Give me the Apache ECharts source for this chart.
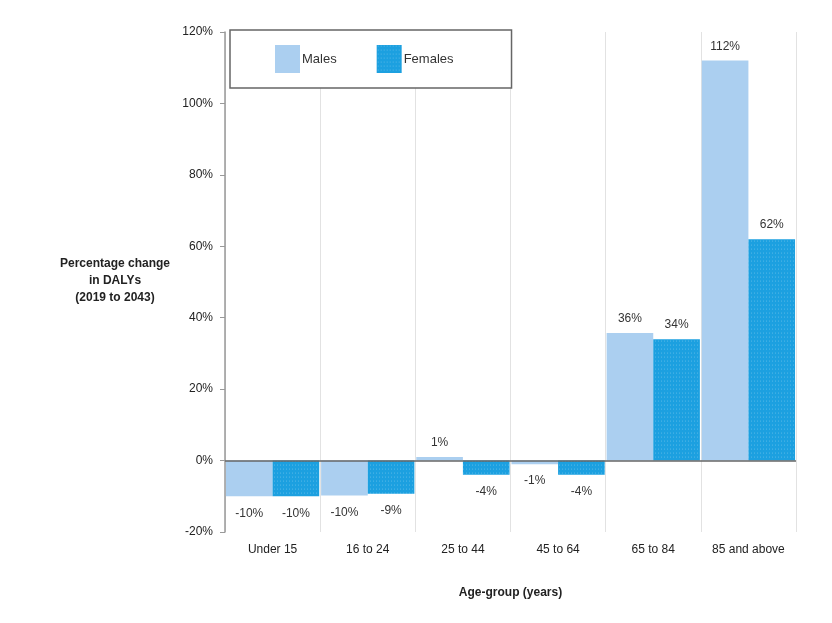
<!DOCTYPE html>
<html><head><meta charset="utf-8">
<script src="https://cdn.jsdelivr.net/npm/echarts@6/dist/echarts.min.js"></script>
<style>html,body{margin:0;padding:0;background:#fff}#c{width:832px;height:623px}</style>
</head><body><div id="c"></div>
<script>
var categories = ['Under 15', '16 to 24', '25 to 44', '45 to 64', '65 to 84', '85 and above'];
var males = [-10, -9.8, 1, -1, 35.7, 112];
var females = [-10, -9.3, -4, -4, 34, 62];
var yTicks = [-20, 0, 20, 40, 60, 80, 100, 120];

var chart = echarts.init(document.getElementById('c'));
var font = 'Liberation Sans, Arial, sans-serif';
function lbl(p){ return Math.round(p.value) + '%'; }
function withPos(arr){ return arr.map(function(v){ return { value: v, label: { position: v < 0 ? 'bottom' : 'top', distance: v < 0 ? 11 : 8 } }; }); }
chart.setOption({
  animation: false,
  textStyle: { fontFamily: font },
  legend: {
    left: 230, top: 30,
    padding: [15, 58, 15, 45],
    borderColor: '#666', borderWidth: 1.5, backgroundColor: '#fff',
    itemWidth: 25, itemHeight: 28, itemGap: 40, icon: 'rect',
    textStyle: { fontFamily: font, fontSize: 13, color: '#333', padding: [0,0,0,-3] },
    data: ['Males', 'Females'],
    z: 10
  },
  grid: { left: 225, right: 36, top: 32, bottom: 91 },
  xAxis: {
    type: 'category', data: categories,
    axisLine: { show: false }, axisTick: { show: false },
    axisLabel: { color: '#222', fontSize: 12, margin: 12, fontFamily: font },
    splitLine: { show: true, lineStyle: { color: '#e2e2e2', width: 1 } },
    name: 'Age-group (years)', nameLocation: 'middle', nameGap: 55,
    nameTextStyle: { fontWeight: 'bold', fontSize: 12, color: '#222', fontFamily: font }
  },
  yAxis: {
    type: 'value', min: -20, max: 120, interval: 20,
    axisLine: { show: true, lineStyle: { color: '#999', width: 1.5 } },
    axisTick: { show: true, length: 5, lineStyle: { color: '#999' } },
    axisLabel: { color: '#222', fontSize: 12, margin: 12, fontFamily: font,
      formatter: function(v){ return yTicks.indexOf(v) >= 0 ? v + '%' : ''; } },
    splitLine: { show: false }
  },
  graphic: [{
    type: 'text', left: 60, top: 255,
    style: { text: 'Percentage change\nin DALYs\n(2019 to 2043)', textAlign: 'center',
      fontWeight: 'bold', fontSize: 12, fill: '#222', lineHeight: 17, font: 'bold 12px Liberation Sans, Arial, sans-serif' }
  }],
  series: [{
    name: 'Males', type: 'bar', data: withPos(males),
    barGap: '0%', barCategoryGap: '2%',
    itemStyle: { color: '#abcff0' },
    label: { show: true, formatter: lbl, color: '#333', fontSize: 12, fontFamily: font },
    markLine: { silent: true, symbol: 'none', label: { show: false },
      lineStyle: { color: '#666', width: 1.5, type: 'solid' }, data: [{ yAxis: 0 }] }
  }, {
    name: 'Females', type: 'bar', data: withPos(females),
    itemStyle: { color: '#1ca0e0',
      decal: { symbol: 'circle', symbolSize: 0.5, color: 'rgba(255,255,255,0.35)', dashArrayX: [3, 0], dashArrayY: [2, 2], rotation: 0 } },
    label: { show: true, formatter: lbl, color: '#333', fontSize: 12, fontFamily: font }
  }]
});
</script></body></html>
